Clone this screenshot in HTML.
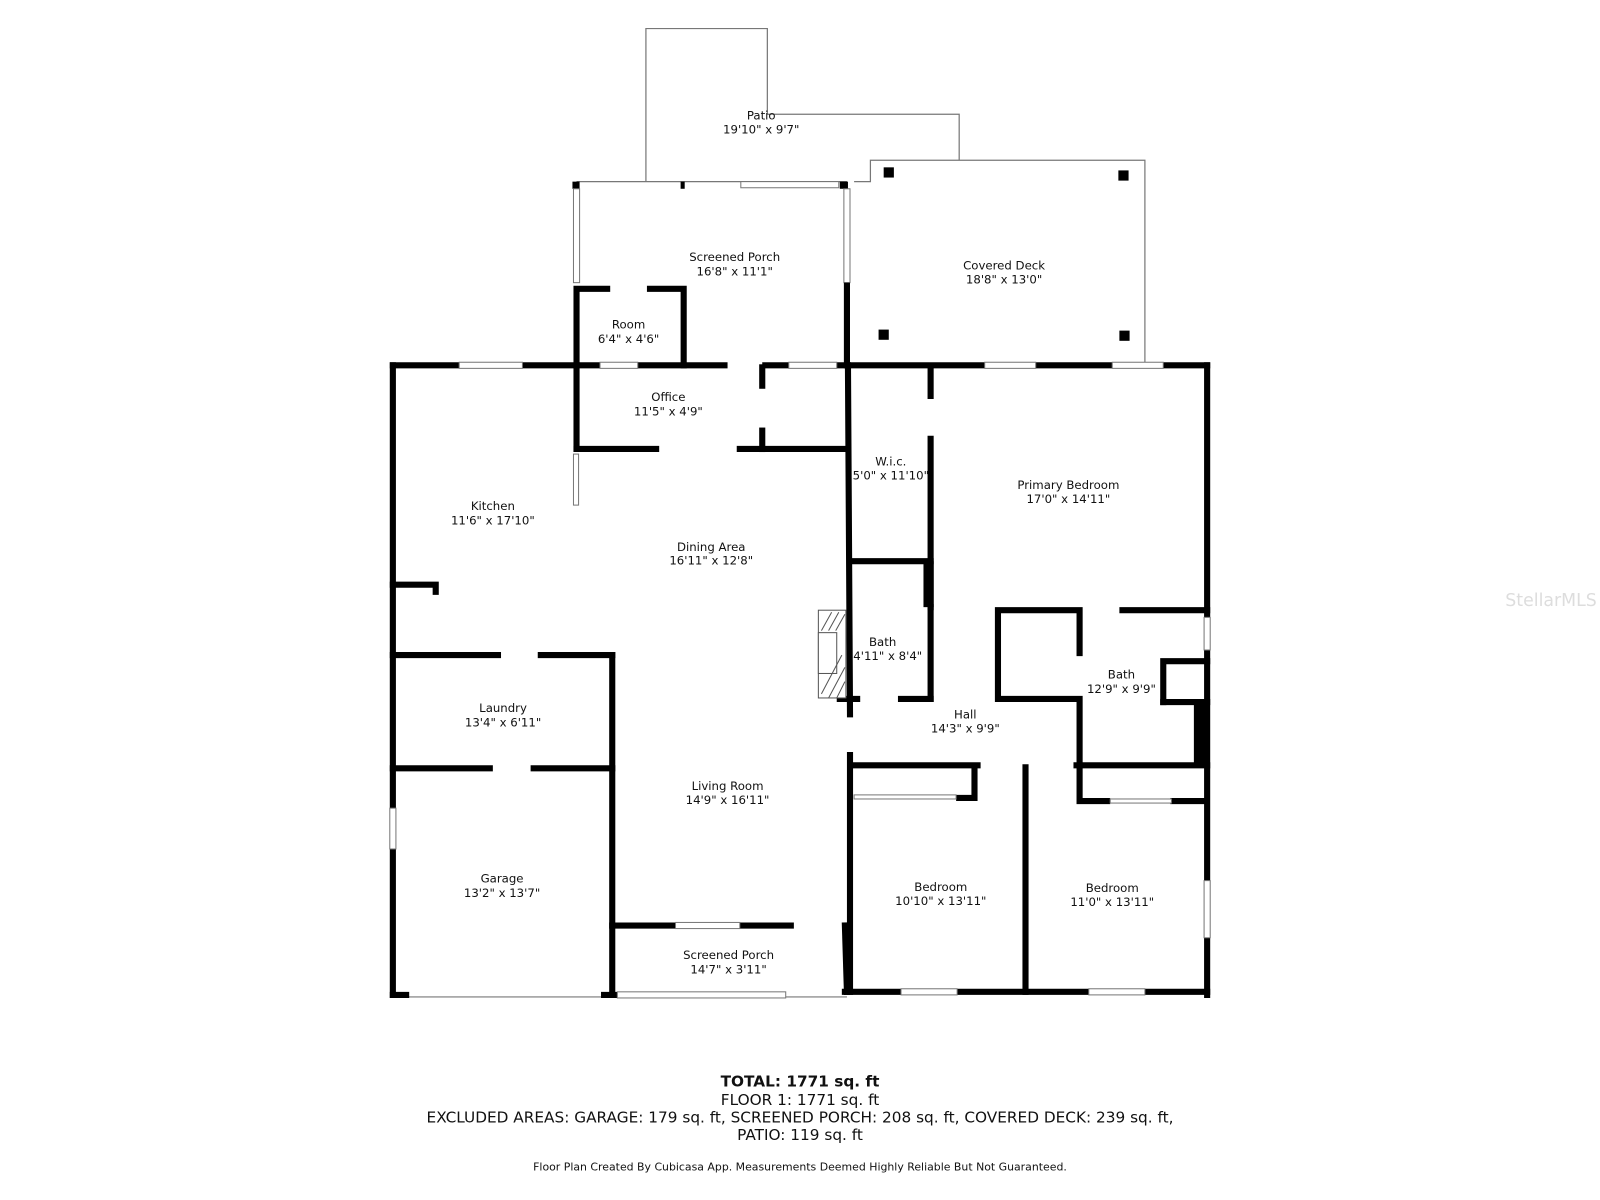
<!DOCTYPE html>
<html><head><meta charset="utf-8"><style>
html,body{margin:0;padding:0;background:#fff;}
svg{display:block;}
text{font-family:"DejaVu Sans","Liberation Sans",sans-serif;fill:#111;}
</style></head><body>
<svg width="1600" height="1200" viewBox="0 0 1568 1176" xmlns="http://www.w3.org/2000/svg">
<rect width="1568" height="1176" fill="#fff"/>
<g fill="none" stroke="#777" stroke-width="1.2">
<polyline points="633,178 633,28 752,28 752,112 940,112 940,157"/>
<polyline points="837,178 853,178 853,157 1122,157 1122,357"/>
<line x1="565" y1="178" x2="830" y2="178"/>
<line x1="400" y1="977" x2="590" y2="977"/>
<line x1="605" y1="977" x2="830" y2="977"/>
</g>
<g fill="#000">
<rect x="866" y="164" width="10" height="10"/>
<rect x="1096" y="167" width="10" height="10"/>
<rect x="861" y="323" width="10" height="10"/>
<rect x="1097" y="324" width="10" height="10"/>
<rect x="561" y="178" width="7" height="7"/>
<rect x="667" y="178" width="4" height="7"/>
<rect x="823" y="178" width="8" height="7"/>
</g>
<g fill="#fff" stroke="#777" stroke-width="1">
<rect x="562" y="185" width="6" height="92"/>
<rect x="827" y="185" width="6" height="92"/>
<rect x="726" y="178" width="96" height="6"/>
</g>
<g stroke="#000" stroke-width="6" fill="none" stroke-linecap="square">
<line x1="385" y1="358" x2="385" y2="975"/>
<line x1="385" y1="358" x2="565" y2="358"/>
<line x1="565" y1="358" x2="710" y2="358"/>
<line x1="750" y1="358" x2="1183" y2="358"/>
<line x1="1183" y1="358" x2="1183" y2="975"/>
<line x1="385" y1="975" x2="398" y2="975"/>
<line x1="592" y1="975" x2="605" y2="975"/>
<line x1="828" y1="972" x2="1183" y2="972"/>
<polyline points="565,358 565,283 595,283"/>
<polyline points="637,283 670,283 670,358"/>
<line x1="830" y1="280" x2="830" y2="358"/>
<line x1="565" y1="358" x2="565" y2="440"/>
<line x1="565" y1="440" x2="643" y2="440"/>
<line x1="725" y1="440" x2="830" y2="440"/>
<line x1="747" y1="360" x2="747" y2="378"/>
<line x1="747" y1="422" x2="747" y2="440"/>
<line x1="831" y1="358" x2="833" y2="700"/>
<line x1="833" y1="740" x2="833" y2="972"/>
<polyline points="385,573 427,573 427,580"/>
<line x1="385" y1="642" x2="488" y2="642"/>
<line x1="530" y1="642" x2="600" y2="642"/>
<line x1="600" y1="642" x2="600" y2="975"/>
<line x1="385" y1="753" x2="480" y2="753"/>
<line x1="523" y1="753" x2="600" y2="753"/>
<line x1="600" y1="907" x2="775" y2="907"/>
<line x1="828" y1="907" x2="830" y2="972"/>
<line x1="912" y1="360" x2="912" y2="388"/>
<line x1="912" y1="430" x2="912" y2="595"/>
<line x1="835" y1="550" x2="912" y2="550"/>
<line x1="912" y1="595" x2="912" y2="685"/>
<line x1="883" y1="685" x2="912" y2="685"/>
<line x1="823" y1="685" x2="840" y2="685"/>
<polyline points="1058,640 1058,598 978,598 978,685 1058,685 1058,750"/>
<line x1="1100" y1="598" x2="1183" y2="598"/>
<polyline points="1140,688 1140,648 1183,648"/>
<line x1="1140" y1="688" x2="1183" y2="688"/>
<line x1="835" y1="750" x2="958" y2="750"/>
<line x1="1055" y1="750" x2="1183" y2="750"/>
<polyline points="940,782 955,782 955,752"/>
<line x1="1005" y1="752" x2="1005" y2="972"/>
<polyline points="1058,752 1058,785 1085,785"/>
<line x1="1150" y1="785" x2="1180" y2="785"/>
</g>
<rect x="905" y="550" width="10" height="45" fill="#000"/>
<rect x="1170" y="690" width="14" height="60" fill="#000"/>
<g fill="#fff" stroke="#777" stroke-width="1">
<rect x="450" y="355" width="62" height="6"/>
<rect x="588" y="355" width="37" height="6"/>
<rect x="773" y="355" width="47" height="6"/>
<rect x="965" y="355" width="50" height="6"/>
<rect x="1090" y="355" width="50" height="6"/>
<rect x="1180" y="605" width="6" height="32"/>
<rect x="1180" y="863" width="6" height="56"/>
<rect x="382" y="792" width="6" height="40"/>
<rect x="883" y="969" width="55" height="6"/>
<rect x="1067" y="969" width="55" height="6"/>
<rect x="605" y="972" width="165" height="6"/>
<rect x="662" y="904" width="63" height="6"/>
<rect x="562" y="445" width="5" height="50"/>
<rect x="837" y="779" width="100" height="4"/>
<rect x="1088" y="783" width="60" height="4"/>
</g>
<g stroke="#555" stroke-width="1" fill="#fff">
<rect x="802" y="598" width="27" height="86"/>
<rect x="802" y="620" width="18" height="40"/>
<path d="M805,618 L815,600 M812,618 L822,600 M819,618 L828,602 M805,680 L825,642 M812,684 L828,654 M820,684 L828,668" fill="none"/>
</g>
<g font-size="11.5" text-anchor="middle">
<text x="746" y="117">Patio</text><text x="746" y="131">19'10" x 9'7"</text>
<text x="720" y="256">Screened Porch</text><text x="720" y="270">16'8" x 11'1"</text>
<text x="984" y="264">Covered Deck</text><text x="984" y="278">18'8" x 13'0"</text>
<text x="616" y="322">Room</text><text x="616" y="336">6'4" x 4'6"</text>
<text x="655" y="393">Office</text><text x="655" y="407">11'5" x 4'9"</text>
<text x="873" y="456">W.i.c.</text><text x="873" y="470">5'0" x 11'10"</text>
<text x="1047" y="479">Primary Bedroom</text><text x="1047" y="493">17'0" x 14'11"</text>
<text x="483" y="500">Kitchen</text><text x="483" y="514">11'6" x 17'10"</text>
<text x="697" y="540">Dining Area</text><text x="697" y="553">16'11" x 12'8"</text>
<text x="865" y="633">Bath</text><text x="870" y="647">4'11" x 8'4"</text>
<text x="1099" y="665">Bath</text><text x="1099" y="679">12'9" x 9'9"</text>
<text x="946" y="704">Hall</text><text x="946" y="718">14'3" x 9'9"</text>
<text x="493" y="698">Laundry</text><text x="493" y="712">13'4" x 6'11"</text>
<text x="713" y="774">Living Room</text><text x="713" y="788">14'9" x 16'11"</text>
<text x="492" y="865">Garage</text><text x="492" y="879">13'2" x 13'7"</text>
<text x="922" y="873">Bedroom</text><text x="922" y="887">10'10" x 13'11"</text>
<text x="1090" y="874">Bedroom</text><text x="1090" y="888">11'0" x 13'11"</text>
<text x="714" y="940">Screened Porch</text><text x="714" y="954">14'7" x 3'11"</text>
</g>
<g font-size="15" text-anchor="middle">
<text x="784" y="1065" font-weight="bold">TOTAL: 1771 sq. ft</text>
<text x="784" y="1083">FLOOR 1: 1771 sq. ft</text>
<text x="784" y="1100">EXCLUDED AREAS: GARAGE: 179 sq. ft, SCREENED PORCH: 208 sq. ft, COVERED DECK: 239 sq. ft,</text>
<text x="784" y="1117">PATIO: 119 sq. ft</text>
<text x="784" y="1147" font-size="10.7">Floor Plan Created By Cubicasa App. Measurements Deemed Highly Reliable But Not Guaranteed.</text>
</g>
<text x="1520" y="594" font-size="17" text-anchor="middle" style="fill:#ddd">StellarMLS</text>
</svg>
</body></html>
